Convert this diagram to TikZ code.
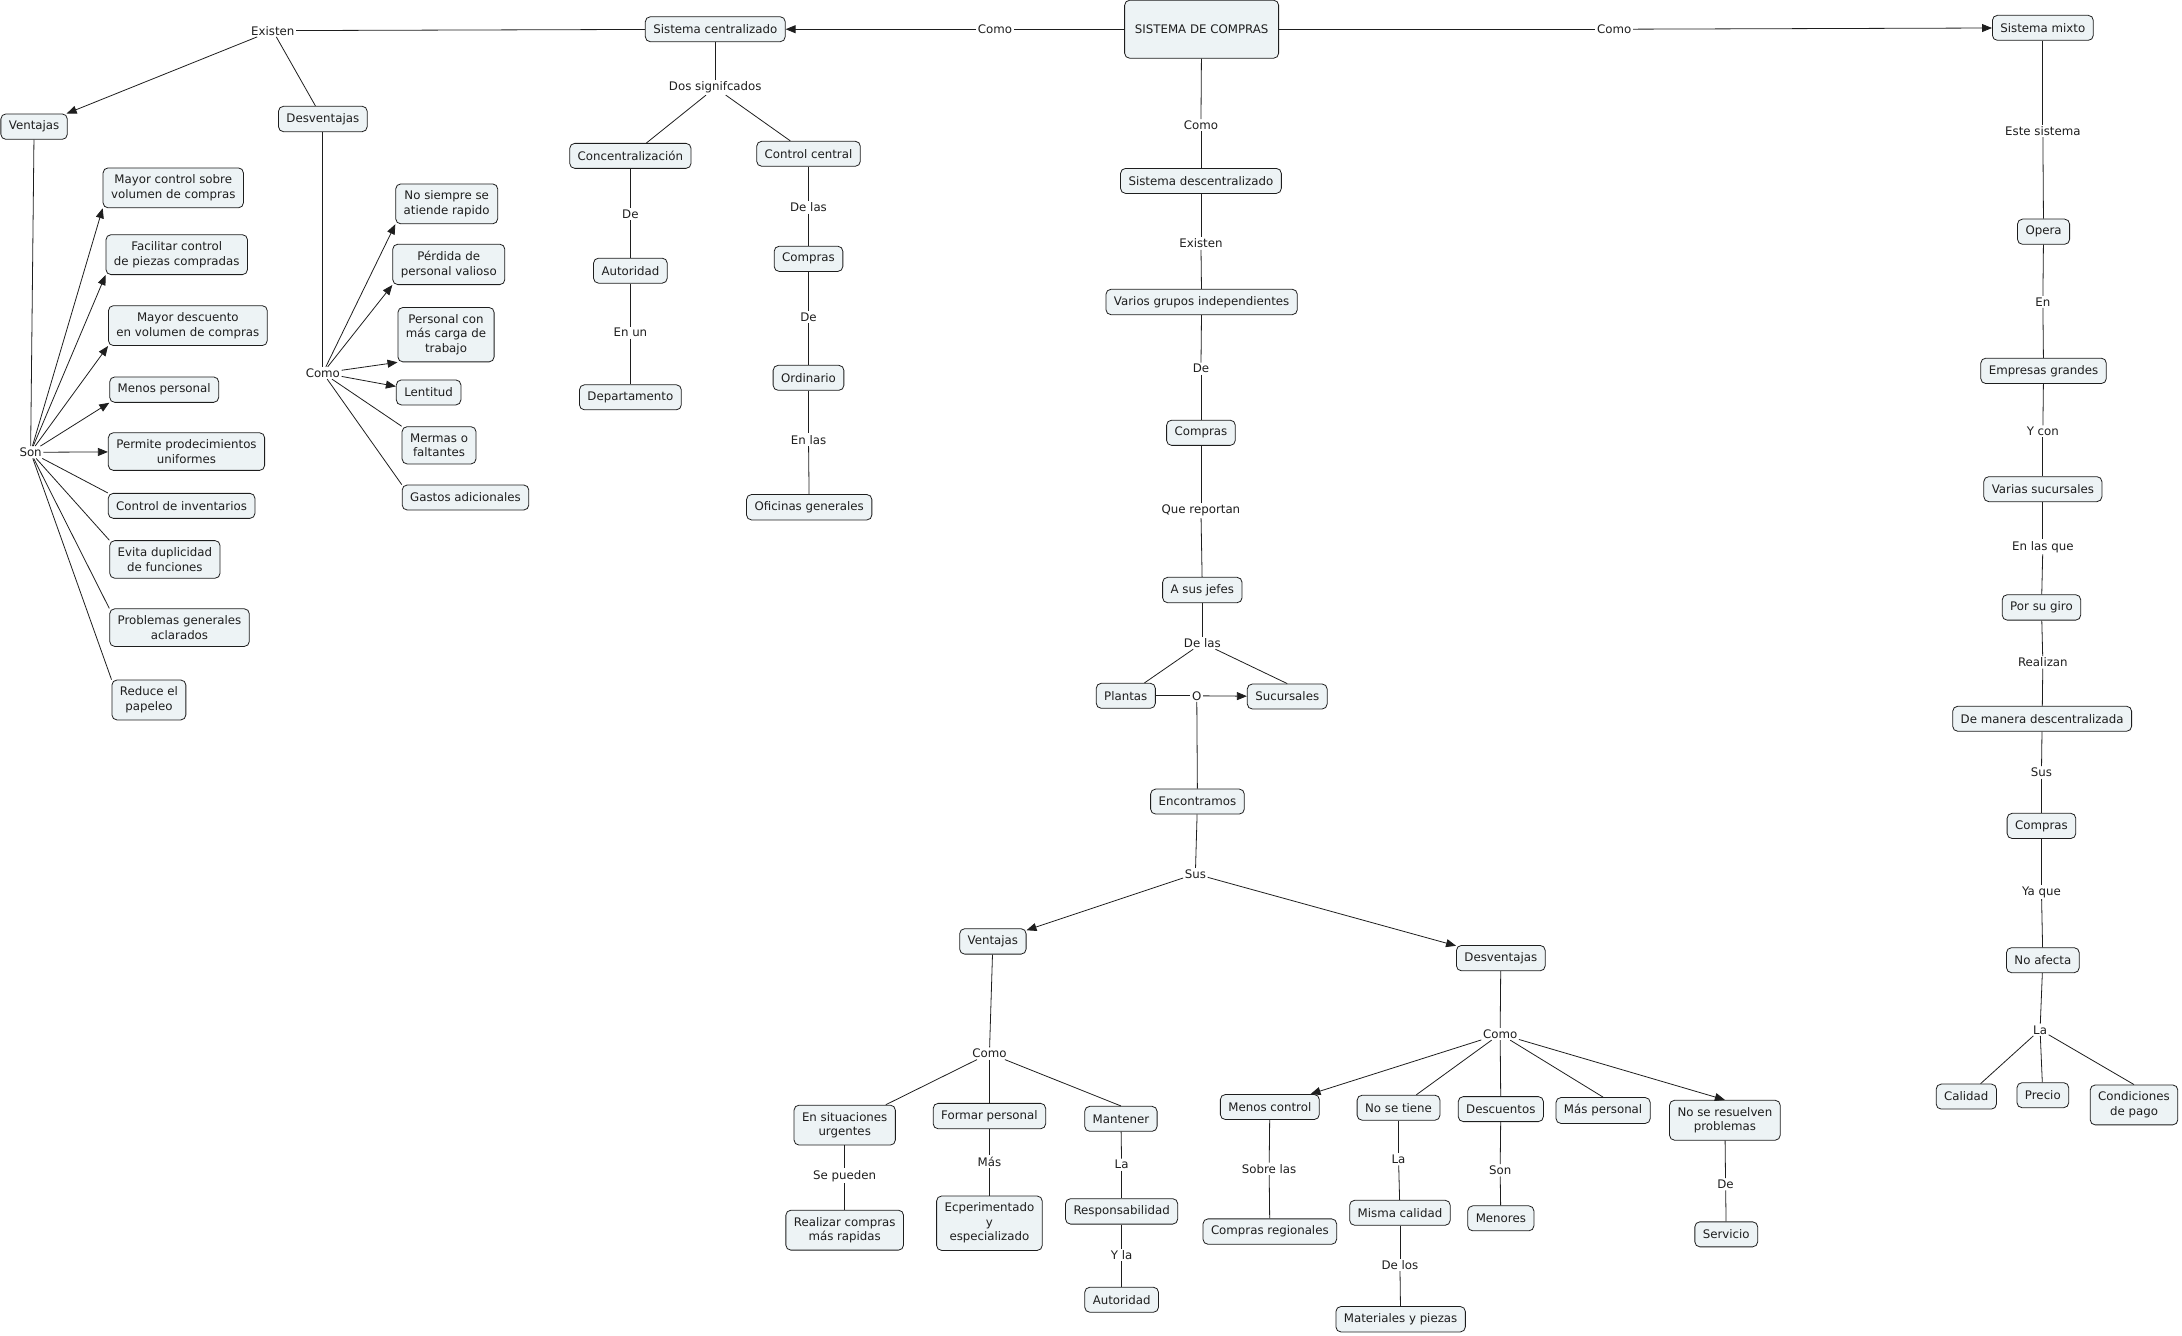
\documentclass[tikz,border=0pt]{standalone}
\usepackage{fontspec}
\setmainfont{DejaVu Sans}
\definecolor{cmapFill}{HTML}{EDF3F5}
\definecolor{cmapLine}{HTML}{1E1E1E}
\usetikzlibrary{arrows.meta,positioning}

\begin{document}
\begin{tikzpicture}[x=1.3916pt, y=-1.3916pt,
  concept/.style={draw=cmapLine, fill=cmapFill, rounded corners=5pt,
                  font=\fontsize{11.8}{14.5}\selectfont, align=center,
                  inner xsep=8pt, inner ysep=7pt, minimum height=25pt,
                  line width=0.8pt, text=cmapLine},
  link/.style={font=\fontsize{11.8}{14.5}\selectfont, inner sep=1.5pt,
               align=center, text=cmapLine},
  con/.style={cmapLine, line width=0.8pt},
  arr/.style={con, -{Triangle[length=10pt, width=8pt]}}
]
\useasboundingbox (0,0) rectangle (1568,960);

\node[concept, minimum width=154pt, minimum height=58pt] (sistema) at (863.5,21) {SISTEMA DE COMPRAS};
\node[concept] (centra) at (514,21) {Sistema centralizado};
\node[concept] (mixto)  at (1468,20) {Sistema mixto};
\node[concept] (descen) at (863,130) {Sistema descentralizado};
\node[link] (como1) at (715,21) {Como};
\node[link] (como2) at (1160,21) {Como};
\node[link] (como3) at (863,90) {Como};
\draw[con] (sistema) -- (como1);
\draw[arr] (como1) -- (centra);
\draw[con] (sistema) -- (como2);
\draw[arr] (como2) -- (mixto);
\draw[con] (sistema) -- (como3);
\draw[con] (como3) -- (descen);

\node[link] (existen1) at (196,22) {Existen};
\node[concept] (vent1) at (24.5,91) {Ventajas};
\node[concept] (desv1) at (232,85.5) {Desventajas};
\draw[con] (centra) -- (existen1);
\draw[arr] (existen1) -- (vent1);
\draw[con] (existen1) -- (desv1);

\node[link] (son1) at (22,325) {Son};
\node[concept] (v1) at (124.5,135) {Mayor control sobre\\volumen de compras};
\node[concept] (v2) at (127,183) {Facilitar control\\de piezas compradas};
\node[concept] (v3) at (135,234) {Mayor descuento\\en volumen de compras};
\node[concept] (v4) at (118,280) {Menos personal};
\node[concept] (v5) at (134,324.5) {Permite prodecimientos\\uniformes};
\node[concept] (v6) at (130.5,363.5) {Control de inventarios};
\node[concept] (v7) at (118.5,402) {Evita duplicidad\\de funciones};
\node[concept] (v8) at (129,451) {Problemas generales\\aclarados};
\node[concept] (v9) at (107,503) {Reduce el\\papeleo};
\draw[con] (vent1) -- (son1);
\foreach \n in {v1,v2,v3,v4}
  \draw[arr] (son1) -- (\n.south west);
\draw[arr] (son1) -- (v5);
\foreach \n in {v6,v7,v8,v9}
  \draw[con] (son1) -- (\n.north west);

\node[link] (como4) at (232,268) {Como};
\node[concept] (d1) at (321,146.5) {No siempre se\\atiende rapido};
\node[concept] (d2) at (322.5,190) {Pérdida de\\personal valioso};
\node[concept] (d3) at (320.5,240.5) {Personal con\\más carga de\\trabajo};
\node[concept] (d4) at (308,282) {Lentitud};
\node[concept] (d5) at (315.5,320) {Mermas o\\faltantes};
\node[concept] (d6) at (334.5,357.5) {Gastos adicionales};
\draw[con] (desv1) -- (como4);
\foreach \n in {d1,d2,d3}
  \draw[arr] (como4) -- (\n.south west);
\draw[arr] (como4) -- (d4);
\foreach \n in {d5,d6}
  \draw[con] (como4) -- (\n.north west);

\node[link] (dos) at (514,63) {Dos signifcados};
\node[concept] (concen) at (453,112) {Concentralización};
\node[concept] (ctrl) at (581,110.5) {Control central};
\node[link] (de1) at (453,154) {De};
\node[concept] (auto1) at (453,194.5) {Autoridad};
\node[link] (enun) at (453,239) {En un};
\node[concept] (depto) at (453,285.5) {Departamento};
\node[link] (delas1) at (581,149) {De las};
\node[concept] (comp1) at (581,186) {Compras};
\node[link] (de2) at (581,228) {De};
\node[concept] (ordin) at (581,271.5) {Ordinario};
\node[link] (enlas) at (581,316) {En las};
\node[concept] (ofic) at (581.5,364.5) {Oficinas generales};
\draw[con] (centra) -- (dos);
\draw[con] (dos) -- (concen);
\draw[con] (dos) -- (ctrl);
\draw[con] (concen) -- (de1);
\draw[con] (de1) -- (auto1);
\draw[con] (auto1) -- (enun);
\draw[con] (enun) -- (depto);
\draw[con] (ctrl) -- (delas1);
\draw[con] (delas1) -- (comp1);
\draw[con] (comp1) -- (de2);
\draw[con] (de2) -- (ordin);
\draw[con] (ordin) -- (enlas);
\draw[con] (enlas) -- (ofic);

\node[link] (existen2) at (863,175) {Existen};
\node[concept] (varios) at (863.5,217) {Varios grupos independientes};
\node[link] (de3) at (863,265) {De};
\node[concept] (comp2) at (863,311) {Compras};
\node[link] (reportan) at (863,367) {Que reportan};
\node[concept] (jefes) at (864,424) {A sus jefes};
\node[link] (delas2) at (864,462) {De las};
\node[concept] (plantas) at (809,500) {Plantas};
\node[concept] (sucur) at (925,500.5) {Sucursales};
\node[link] (o) at (860,500) {O};
\node[concept] (encon) at (860.5,576) {Encontramos};
\node[link] (sus1) at (859,628) {Sus};
\node[concept] (vent2) at (713.5,676.5) {Ventajas};
\node[concept] (desv2) at (1078.5,688.5) {Desventajas};
\draw[con] (descen) -- (existen2);
\draw[con] (existen2) -- (varios);
\draw[con] (varios) -- (de3);
\draw[con] (de3) -- (comp2);
\draw[con] (comp2) -- (reportan);
\draw[con] (reportan) -- (jefes);
\draw[con] (jefes) -- (delas2);
\draw[con] (delas2) -- (plantas);
\draw[con] (delas2) -- (sucur.north);
\draw[con] (plantas) -- (o);
\draw[arr] (o) -- (sucur);
\draw[con] (o) -- (encon);
\draw[con] (encon) -- (sus1);
\draw[arr] (sus1) -- (vent2);
\draw[arr] (sus1) -- (desv2);

\node[link] (como5) at (711,757) {Como};
\node[concept] (urgen) at (607,808.5) {En situaciones\\urgentes};
\node[concept] (formar) at (711,802) {Formar personal};
\node[concept] (mant) at (805.5,804) {Mantener};
\node[link] (pueden) at (607,845) {Se pueden};
\node[concept] (realizar) at (607,884) {Realizar compras\\más rapidas};
\node[link] (mas) at (711,835) {Más};
\node[concept] (ecper) at (711,879) {Ecperimentado\\y\\especializado};
\node[link] (la1) at (806,837) {La};
\node[concept] (respon) at (806,870.5) {Responsabilidad};
\node[link] (yla) at (806,902) {Y la};
\node[concept] (auto2) at (806,934) {Autoridad};
\draw[con] (vent2) -- (como5);
\draw[con] (como5) -- (urgen);
\draw[con] (como5) -- (formar);
\draw[con] (como5) -- (mant.north);
\draw[con] (urgen) -- (pueden);
\draw[con] (pueden) -- (realizar);
\draw[con] (formar) -- (mas);
\draw[con] (mas) -- (ecper);
\draw[con] (mant) -- (la1);
\draw[con] (la1) -- (respon);
\draw[con] (respon) -- (yla);
\draw[con] (yla) -- (auto2);

\node[link] (como6) at (1078,743) {Como};
\node[concept] (menos) at (912.5,795.5) {Menos control};
\node[concept] (notiene) at (1005,796) {No se tiene};
\node[concept] (descu) at (1078.5,797) {Descuentos};
\node[concept] (maspers) at (1152,798) {Más personal};
\node[concept] (resuel) at (1239.5,805) {No se resuelven\\problemas};
\node[link] (sobre) at (912,840) {Sobre las};
\node[concept] (region) at (912.5,885) {Compras regionales};
\node[link] (la2) at (1005,833) {La};
\node[concept] (misma) at (1006,871.5) {Misma calidad};
\node[link] (delos) at (1006,909) {De los};
\node[concept] (mater) at (1006.5,948) {Materiales y piezas};
\node[link] (son2) at (1078,841) {Son};
\node[concept] (menores) at (1078.5,875.5) {Menores};
\node[link] (de4) at (1240,851) {De};
\node[concept] (servicio) at (1240.5,887) {Servicio};
\draw[con] (desv2) -- (como6);
\draw[arr] (como6) -- (menos);
\draw[con] (como6) -- (notiene);
\draw[con] (como6) -- (descu);
\draw[con] (como6) -- (maspers.north);
\draw[arr] (como6) -- (resuel.north);
\draw[con] (menos) -- (sobre);
\draw[con] (sobre) -- (region);
\draw[con] (notiene) -- (la2);
\draw[con] (la2) -- (misma);
\draw[con] (misma) -- (delos);
\draw[con] (delos) -- (mater);
\draw[con] (descu) -- (son2);
\draw[con] (son2) -- (menores);
\draw[con] (resuel) -- (de4);
\draw[con] (de4) -- (servicio);

\node[link] (este) at (1468,94) {Este sistema};
\node[concept] (opera) at (1468.5,166.5) {Opera};
\node[link] (en1) at (1468,217) {En};
\node[concept] (empre) at (1468.5,266.5) {Empresas grandes};
\node[link] (ycon) at (1468,310) {Y con};
\node[concept] (varias) at (1468,351.5) {Varias sucursales};
\node[link] (enlasque) at (1468,393) {En las que};
\node[concept] (giro) at (1467,436.5) {Por su giro};
\node[link] (realizan) at (1468,476) {Realizan};
\node[concept] (manera) at (1467.5,516.5) {De manera descentralizada};
\node[link] (sus2) at (1467,555) {Sus};
\node[concept] (comp3) at (1467,593.5) {Compras};
\node[link] (yaque) at (1467,641) {Ya que};
\node[concept] (afecta) at (1468,690) {No afecta};
\node[link] (la3) at (1466,740) {La};
\node[concept] (calidad) at (1413,788) {Calidad};
\node[concept] (precio) at (1468,787) {Precio};
\node[concept] (condic) at (1533.5,794) {Condiciones\\de pago};
\draw[con] (mixto) -- (este);
\draw[con] (este) -- (opera);
\draw[con] (opera) -- (en1);
\draw[con] (en1) -- (empre);
\draw[con] (empre) -- (ycon);
\draw[con] (ycon) -- (varias);
\draw[con] (varias) -- (enlasque);
\draw[con] (enlasque) -- (giro);
\draw[con] (giro) -- (realizan);
\draw[con] (realizan) -- (manera);
\draw[con] (manera) -- (sus2);
\draw[con] (sus2) -- (comp3);
\draw[con] (comp3) -- (yaque);
\draw[con] (yaque) -- (afecta);
\draw[con] (afecta) -- (la3);
\draw[con] (la3) -- (calidad);
\draw[con] (la3) -- (precio);
\draw[con] (la3) -- (condic.north);
\end{tikzpicture}
\end{document}
